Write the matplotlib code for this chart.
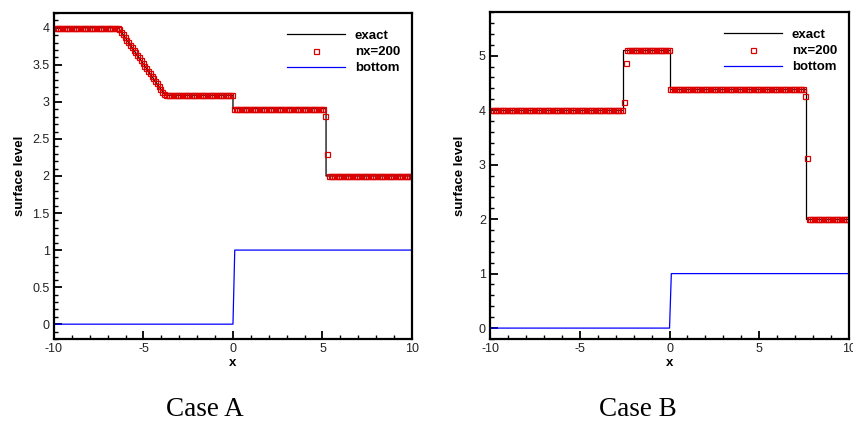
import numpy as np
import matplotlib
matplotlib.use('Agg')
import matplotlib.pyplot as plt
from matplotlib.ticker import MultipleLocator, FormatStrFormatter

plt.rcParams['font.family'] = ['Liberation Sans', 'DejaVu Sans']
plt.rcParams['axes.unicode_minus'] = False

# cell centres of the nx=200 grid on [-10, 10]
cell_x = np.linspace(-9.95, 9.95, 200)

# Case A: numerical surface level, cell by cell (plateaus + read-off transitions)
a_fan = [3.98, 3.95, 3.91, 3.88, 3.84, 3.81, 3.77, 3.74, 3.70, 3.67, 3.63, 3.60, 3.56,
         3.53, 3.49, 3.46, 3.42, 3.39, 3.35, 3.32, 3.28, 3.25, 3.21, 3.18, 3.14, 3.11]
a_num = np.concatenate([np.repeat(4.0, 36), a_fan, np.repeat(3.09, 38),
                        np.repeat(2.91, 51), [2.81, 2.30], np.repeat(2.0, 47)])
a_exact_x = [-10, -6.4, -5.2, -3.8, 0, 0, 5.2, 5.2, 10]
a_exact_y = [4.0, 4.0, 3.58, 3.09, 3.09, 2.91, 2.91, 2.0, 2.0]

# Case B
b_num = np.concatenate([np.repeat(4.0, 74), [4.14, 4.87], np.repeat(5.1, 24),
                        np.repeat(4.38, 75), [4.25, 3.12], np.repeat(2.0, 23)])
b_exact_x = [-10, -2.57, -2.57, 0, 0, 7.62, 7.62, 10]
b_exact_y = [4.0, 4.0, 5.1, 5.1, 4.38, 4.38, 2.0, 2.0]

# bottom topography (same in both cases)
bot_x = [-10, 0, 0.1, 10]
bot_y = [0, 0, 1, 1]

fig = plt.figure(figsize=(8.54, 4.23), dpi=100)
axA = fig.add_axes([0.0632, 0.1986, 0.4192, 0.7707])
axB = fig.add_axes([0.5738, 0.1986, 0.4204, 0.7730])

panels = [(axA, a_exact_x, a_exact_y, a_num, (-0.2, 4.2), 0.5, 0.1, 'Case A', 205, 5),
          (axB, b_exact_x, b_exact_y, b_num, (-0.2, 5.8), 1.0, 0.2, 'Case B', 638, 9)]

for ax, ex, ey, num, ylim, major, minor, caption, cx, lpad in panels:
    ax.plot(ex, ey, '-', color='black', lw=0.9, label='exact')
    ax.plot(cell_x, num, 's', mfc='none', mec='#dd0000', ms=3.6, mew=0.9, label='nx=200')
    ax.plot(bot_x, bot_y, '-', color='#0000ff', lw=0.9, label='bottom')
    ax.set_xlim(-10, 10)
    ax.set_ylim(*ylim)
    ax.xaxis.set_major_locator(MultipleLocator(5))
    ax.xaxis.set_minor_locator(MultipleLocator(1))
    ax.yaxis.set_major_locator(MultipleLocator(major))
    ax.yaxis.set_minor_locator(MultipleLocator(minor))
    ax.xaxis.set_major_formatter(FormatStrFormatter('%g'))
    ax.yaxis.set_major_formatter(FormatStrFormatter('%g'))
    ax.tick_params(which='both', direction='in', top=False, right=False,
                   labelsize=9, labelcolor='#222222')
    ax.tick_params(which='major', length=6, width=1.3, pad=3)
    ax.tick_params(which='minor', length=3, width=1.0)
    for s in ax.spines.values():
        s.set_linewidth(1.6)
    ax.set_xlabel('x', fontsize=9.5, fontweight='bold', labelpad=1)
    ax.set_ylabel('surface level', fontsize=9.5, fontweight='bold', labelpad=lpad)
    leg = ax.legend(loc='upper right', bbox_to_anchor=(1.0, 0.985), frameon=False,
                    fontsize=9.5, numpoints=1, handlelength=4.4, handletextpad=0.75,
                    labelspacing=0.3)
    for t in leg.get_texts():
        t.set_fontweight('bold')
    fig.text(cx / 854, 1 - 409 / 423, caption, ha='center', va='center',
             fontsize=19.5, family=['Liberation Serif', 'DejaVu Serif'])

fig.savefig('out.png', dpi=100)
